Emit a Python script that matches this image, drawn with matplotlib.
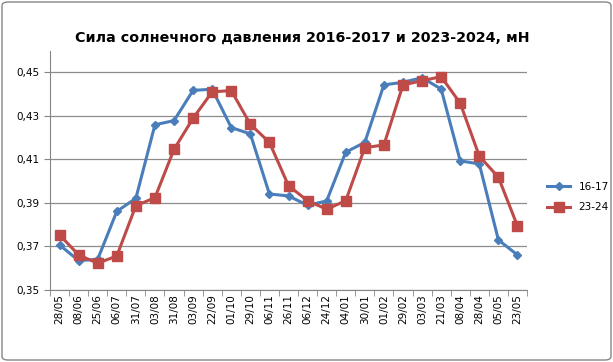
import matplotlib
matplotlib.use("Agg")
import matplotlib.pyplot as plt
from matplotlib.patches import FancyBboxPatch
from matplotlib.ticker import FuncFormatter

dates = ["28/05", "08/06", "25/06", "06/07", "31/07", "03/08", "31/08", "03/09",
         "22/09", "01/10", "29/10", "06/11", "26/11", "06/12", "24/12", "04/01",
         "30/01", "01/02", "29/02", "03/03", "21/03", "08/04", "28/04", "05/05",
         "23/05"]
s1617 = [0.3707, 0.3635, 0.3641, 0.3861, 0.3921, 0.4259, 0.4278, 0.4417,
         0.4422, 0.4246, 0.4217, 0.3941, 0.3932, 0.3889, 0.3909, 0.4133,
         0.4178, 0.4442, 0.4454, 0.4475, 0.4423, 0.4093, 0.4079, 0.3730,
         0.3661]
s2324 = [0.3753, 0.3661, 0.3623, 0.3656, 0.3887, 0.3924, 0.4146, 0.4289,
         0.4410, 0.4416, 0.4261, 0.4178, 0.3979, 0.3910, 0.3871, 0.3910,
         0.4154, 0.4166, 0.4442, 0.4461, 0.4480, 0.4358, 0.4115, 0.4018,
         0.3794]

W, H = 613, 362
fig = plt.figure(figsize=(W / 100, H / 100), dpi=100)
ax = fig.add_axes([50 / W, 1 - 290 / H, (527 - 50) / W, (290 - 50.5) / H])

x = range(len(dates))
ax.plot(x, s1617, color="#4A7EBB", lw=2.2, marker="D", ms=4.5, label="16-17")
ax.plot(x, s2324, color="#BE4B48", lw=2.2, marker="s", ms=7, label="23-24")

ax.set_xlim(-0.5, len(dates) - 0.5)
ax.set_ylim(0.35, 0.46)
ax.set_yticks([0.35, 0.37, 0.39, 0.41, 0.43, 0.45])
ax.yaxis.set_major_formatter(FuncFormatter(lambda v, p: f"{v:.2f}".replace(".", ",")))
ax.set_xticks(list(x))
ax.set_xticklabels(dates, rotation=90, fontsize=7.5)
ax.set_xticks([i - 0.5 for i in range(len(dates) + 1)], minor=True)
ax.tick_params(axis="x", which="major", length=0, pad=3)
ax.tick_params(axis="x", which="minor", length=4, color="#868686")
ax.tick_params(axis="y", length=4, color="#868686", labelsize=7.5)
ax.grid(axis="y", color="#8c8c8c", lw=0.9)
ax.set_axisbelow(True)
for side in ["top", "right"]:
    ax.spines[side].set_visible(False)
for side in ["left", "bottom"]:
    ax.spines[side].set_color("#868686")

fig.text(302 / W, 1 - 38 / H, "Сила солнечного давления 2016-2017 и 2023-2024, мН",
         ha="center", va="center", fontsize=10.3, fontweight="bold")

ax.legend(loc="center left", bbox_to_anchor=(538 / W, 1 - 197 / H),
          bbox_transform=fig.transFigure, frameon=False, fontsize=7.5,
          handlelength=2.2, labelspacing=1.0)

border = FancyBboxPatch((2 / W, 2 / H), (W - 4) / W, (H - 4) / H,
                        boxstyle="round,pad=0,rounding_size=0.01",
                        transform=fig.transFigure, fill=False,
                        edgecolor="#868686", lw=1)
fig.patches.append(border)

fig.savefig("out.png", dpi=100)
